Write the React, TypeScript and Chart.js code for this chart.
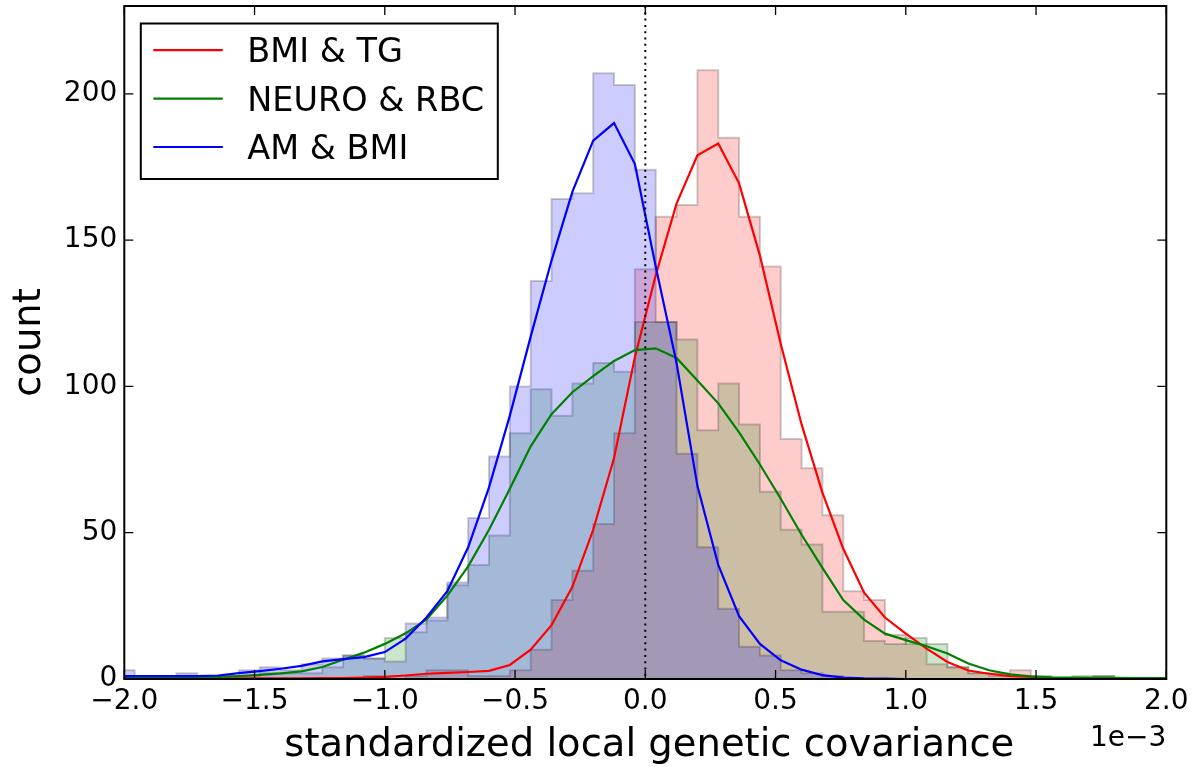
import React, { useEffect, useRef } from 'react';
import { Chart, registerables } from 'chart.js';

Chart.register(...registerables);

const FONT = "'DejaVu Sans', 'Liberation Sans', sans-serif";

// Histogram bins (units of 1e-3), width 0.08, centred on these values
const BIN_WIDTH = 0.08;
const binCenters = [
  -2.0, -1.92, -1.84, -1.76, -1.68, -1.6, -1.52, -1.44, -1.36, -1.28,
  -1.2, -1.12, -1.04, -0.96, -0.88, -0.8, -0.72, -0.64, -0.56, -0.48,
  -0.4, -0.32, -0.24, -0.16, -0.08, 0.0, 0.08, 0.16, 0.24, 0.32,
  0.4, 0.48, 0.56, 0.64, 0.72, 0.8, 0.88, 0.96, 1.04, 1.12,
  1.2, 1.28, 1.36, 1.44, 1.52, 1.6, 1.68, 1.76, 1.84, 1.92, 2.0,
];

// x positions of the smooth curves' vertices (bin edges)
const curveX = [
  -2.04, -1.96, -1.88, -1.8, -1.72, -1.64, -1.56, -1.48, -1.4, -1.32,
  -1.24, -1.16, -1.08, -1.0, -0.92, -0.84, -0.76, -0.68, -0.6, -0.52,
  -0.44, -0.36, -0.28, -0.2, -0.12, -0.04, 0.04, 0.12, 0.2, 0.28,
  0.36, 0.44, 0.52, 0.6, 0.68, 0.76, 0.84, 0.92, 1.0, 1.08,
  1.16, 1.24, 1.32, 1.4, 1.48, 1.56, 1.64, 1.72, 1.8, 1.88, 1.96, 2.04,
];

const seriesLabels = ['BMI & TG', 'NEURO & RBC', 'AM & BMI'];

// histogram counts per bin
const bmiTgCounts = [
  0, 0, 0, 0, 0, 0, 0, 0, 0, 0,
  0, 0, 1, 0, 1, 3, 3, 1, 1, 3,
  10, 27, 37, 53, 84, 140, 158, 162, 208, 185,
  158, 141, 82, 72, 56, 30, 27, 15, 12, 5,
  4, 2, 2, 3, 1, 0, 0, 1, 0, 0, 0,
];
const neuroRbcCounts = [
  0, 0, 0, 1, 0, 1, 1, 2, 2, 2,
  4, 8, 7, 14, 16, 20, 32, 39, 49, 84,
  99, 90, 101, 108, 105, 122, 122, 116, 85, 101,
  87, 64, 51, 46, 23, 23, 13, 12, 14, 12,
  4, 2, 1, 1, 0, 0, 1, 1, 0, 0, 0,
];
const amBmiCounts = [
  3, 0, 1, 2, 0, 1, 3, 4, 3, 5,
  7, 8, 7, 6, 19, 21, 33, 55, 76, 100,
  136, 164, 166, 207, 203, 174, 122, 77, 45, 24,
  11, 8, 3, 2, 1, 0, 0, 0, 0, 0,
  0, 0, 0, 0, 0, 0, 0, 0, 0, 0, 0,
];

// smooth curves
const bmiTgCurve = [
  0.1, 0.1, 0.1, 0.1, 0.1, 0.2, 0.2, 0.2, 0.2, 0.2,
  0.3, 0.3, 0.5, 0.7, 1.2, 1.8, 2.1, 2.4, 2.8, 4.8,
  10, 18.4, 31.5, 51, 75.5, 110, 138, 162.5, 179, 183,
  169.4, 144.7, 114.5, 87, 63.7, 44.5, 29.5, 21, 15.5, 10.4,
  5.8, 2.9, 1.8, 1.0, 0.7, 0.4, 0.3, 0.2, 0.1, 0.1, 0.1, 0.1,
];
const neuroRbcCurve = [
  0.3, 0.3, 0.3, 0.4, 0.5, 0.7, 1.0, 1.4, 1.9, 2.6,
  4.1, 6.6, 9.0, 12.0, 15.6, 20.4, 28.5, 38.5, 51, 65,
  79.5, 90.5, 98, 103.5, 108.7, 112.4, 113, 109.7, 102, 94.2,
  84.3, 73.3, 61.6, 49.3, 38, 27, 20.3, 15.5, 13.3, 11.2,
  8.7, 5.3, 3.0, 1.6, 0.9, 0.6, 0.5, 0.4, 0.4, 0.3, 0.3, 0.3,
];
const amBmiCurve = [
  1.0, 1.0, 1.0, 1.0, 1.0, 1.2, 2.0, 2.7, 3.5, 4.5,
  6.0, 6.8, 7.5, 9.2, 13.8, 21, 30, 45, 65.5, 90,
  117, 143, 166.5, 184, 190, 176, 141, 108, 66, 39,
  21.5, 12, 6.4, 3.2, 1.3, 0.5, 0.2, 0.1, 0, 0,
  0, 0, 0, 0, 0, 0, 0, 0, 0, 0, 0, 0,
];

const xTickValues = [-2, -1.5, -1, -0.5, 0, 0.5, 1, 1.5, 2];
const yTickValues = [0, 50, 100, 150, 200];
const X_MIN = -2;
const X_MAX = 2;
const Y_MIN = 0;
const Y_MAX = 230;
const ZERO_LINE_X = 0;
const X_LABEL = 'standardized local genetic covariance';
const Y_LABEL = 'count';
const X_OFFSET_TEXT = '1e\u22123';

const LINE_COLORS = ['#ff0000', '#008000', '#0000ff'];
const FILL_COLORS = ['rgba(255,0,0,0.2)', 'rgba(0,128,0,0.2)', 'rgba(0,0,255,0.2)'];

function histPoints(counts: number[]) {
  const half = BIN_WIDTH / 2;
  const pts: { x: number; y: number }[] = [{ x: binCenters[0] - half, y: 0 }];
  counts.forEach((c, i) => pts.push({ x: binCenters[i] - half, y: c }));
  pts.push({ x: binCenters[binCenters.length - 1] + half, y: 0 });
  return pts;
}

function curvePoints(vals: number[]) {
  return vals.map((v, i) => ({ x: curveX[i], y: v }));
}

const decorPlugin = {
  id: 'decor',
  afterDatasetsDraw(chart: any) {
    const { ctx, chartArea: a, scales } = chart;
    const xs = scales.x;
    const ys = scales.y;
    ctx.save();
    // dotted zero line
    const x0 = xs.getPixelForValue(ZERO_LINE_X);
    ctx.strokeStyle = '#000';
    ctx.lineWidth = 2;
    ctx.setLineDash([2, 4.3]);
    ctx.beginPath();
    ctx.moveTo(x0, a.top);
    ctx.lineTo(x0, a.bottom);
    ctx.stroke();
    ctx.setLineDash([]);
    // inward ticks on all sides
    ctx.lineWidth = 1.3;
    const TL = 9;
    ctx.beginPath();
    xTickValues.forEach((v) => {
      const px = xs.getPixelForValue(v);
      ctx.moveTo(px, a.bottom);
      ctx.lineTo(px, a.bottom - TL);
      ctx.moveTo(px, a.top);
      ctx.lineTo(px, a.top + TL);
    });
    yTickValues.forEach((v) => {
      const py = ys.getPixelForValue(v);
      ctx.moveTo(a.left, py);
      ctx.lineTo(a.left + TL, py);
      ctx.moveTo(a.right, py);
      ctx.lineTo(a.right - TL, py);
    });
    ctx.stroke();
    // frame
    ctx.lineWidth = 2;
    ctx.strokeRect(a.left, a.top, a.right - a.left, a.bottom - a.top);
    ctx.restore();
  },
  afterDraw(chart: any) {
    const { ctx, chartArea: a } = chart;
    ctx.save();
    // legend
    const lx = a.left + 16.5;
    const ly = a.top + 17.5;
    const lw = 357;
    const lh = 155.5;
    ctx.fillStyle = '#fff';
    ctx.fillRect(lx, ly, lw, lh);
    ctx.strokeStyle = '#000';
    ctx.lineWidth = 2;
    ctx.strokeRect(lx, ly, lw, lh);
    ctx.font = `33.5px ${FONT}`;
    ctx.textAlign = 'left';
    ctx.textBaseline = 'alphabetic';
    seriesLabels.forEach((label, i) => {
      const cy = ly + 26.7 + i * 48.4;
      ctx.strokeStyle = LINE_COLORS[i];
      ctx.lineWidth = 2.2;
      ctx.beginPath();
      ctx.moveTo(lx + 12.5, cy);
      ctx.lineTo(lx + 82, cy);
      ctx.stroke();
      ctx.fillStyle = '#000';
      ctx.fillText(label, lx + 106.5, cy + 12);
    });
    // axis labels
    ctx.fillStyle = '#000';
    ctx.font = `38.5px ${FONT}`;
    ctx.textAlign = 'center';
    ctx.fillText(X_LABEL, (a.left + a.right) / 2 + 4, 756);
    ctx.save();
    ctx.translate(40, (a.top + a.bottom) / 2);
    ctx.rotate(-Math.PI / 2);
    ctx.fillText(Y_LABEL, 0, 0);
    ctx.restore();
    // offset text
    ctx.font = `28px ${FONT}`;
    ctx.textAlign = 'right';
    ctx.fillText(X_OFFSET_TEXT, a.right, 746);
    ctx.restore();
  },
};

export default function App() {
  const canvasRef = useRef<HTMLCanvasElement | null>(null);

  useEffect(() => {
    document.body.style.margin = '0';
    const canvas = canvasRef.current;
    if (!canvas) return;

    const datasets: any[] = [
      // curves on top
      { label: seriesLabels[2], data: curvePoints(amBmiCurve), borderColor: LINE_COLORS[2], order: 0 },
      { label: seriesLabels[1], data: curvePoints(neuroRbcCurve), borderColor: LINE_COLORS[1], order: 1 },
      { label: seriesLabels[0], data: curvePoints(bmiTgCurve), borderColor: LINE_COLORS[0], order: 2 },
    ].map((d) => ({ ...d, type: 'line', borderWidth: 2.2, fill: false, pointRadius: 0, tension: 0 }));

    const hists: any[] = [
      { label: seriesLabels[2] + ' hist', data: histPoints(amBmiCounts), backgroundColor: FILL_COLORS[2], order: 3 },
      { label: seriesLabels[1] + ' hist', data: histPoints(neuroRbcCounts), backgroundColor: FILL_COLORS[1], order: 4 },
      { label: seriesLabels[0] + ' hist', data: histPoints(bmiTgCounts), backgroundColor: FILL_COLORS[0], order: 5 },
    ].map((d) => ({
      ...d,
      type: 'line',
      stepped: true,
      fill: 'origin',
      borderColor: 'rgba(0,0,0,0.2)',
      borderWidth: 2,
      pointRadius: 0,
    }));

    const chart = new Chart(canvas, {
      type: 'line',
      data: { datasets: [...datasets, ...hists] },
      options: {
        animation: false,
        responsive: false,
        maintainAspectRatio: false,
        parsing: false,
        normalized: true,
        layout: { padding: { top: 6, right: 31.7, left: 0, bottom: 0 } },
        plugins: { legend: { display: false }, tooltip: { enabled: false } },
        elements: { point: { radius: 0 } },
        scales: {
          x: {
            type: 'linear',
            min: X_MIN,
            max: X_MAX,
            grid: { display: false, drawTicks: false },
            border: { display: false },
            ticks: {
              color: '#000',
              font: { family: FONT, size: 28 },
              padding: 6,
              maxRotation: 0,
              autoSkip: false,
              callback: (v: any) => (Number(v) < 0 ? '\u2212' : '') + Math.abs(Number(v)).toFixed(1),
            },
            afterBuildTicks: (s: any) => {
              s.ticks = xTickValues.map((v) => ({ value: v }));
            },
            afterFit: (s: any) => {
              s.height = 88;
              s.paddingLeft = 0;
              s.paddingRight = 0;
            },
          },
          y: {
            type: 'linear',
            min: Y_MIN,
            max: Y_MAX,
            grid: { display: false, drawTicks: false },
            border: { display: false },
            ticks: {
              color: '#000',
              font: { family: FONT, size: 28 },
              padding: 7,
              callback: (v: any) => String(v),
            },
            afterBuildTicks: (s: any) => {
              s.ticks = yTickValues.map((v) => ({ value: v }));
            },
            afterFit: (s: any) => {
              s.width = 124.3;
              s.paddingTop = 0;
              s.paddingBottom = 0;
            },
          },
        },
      } as any,
      plugins: [decorPlugin],
    });

    return () => chart.destroy();
  }, []);

  return (
    <div style={{ width: 1198, height: 767, background: '#fff' }}>
      <canvas ref={canvasRef} width={1198} height={767} style={{ display: 'block' }} />
    </div>
  );
}
